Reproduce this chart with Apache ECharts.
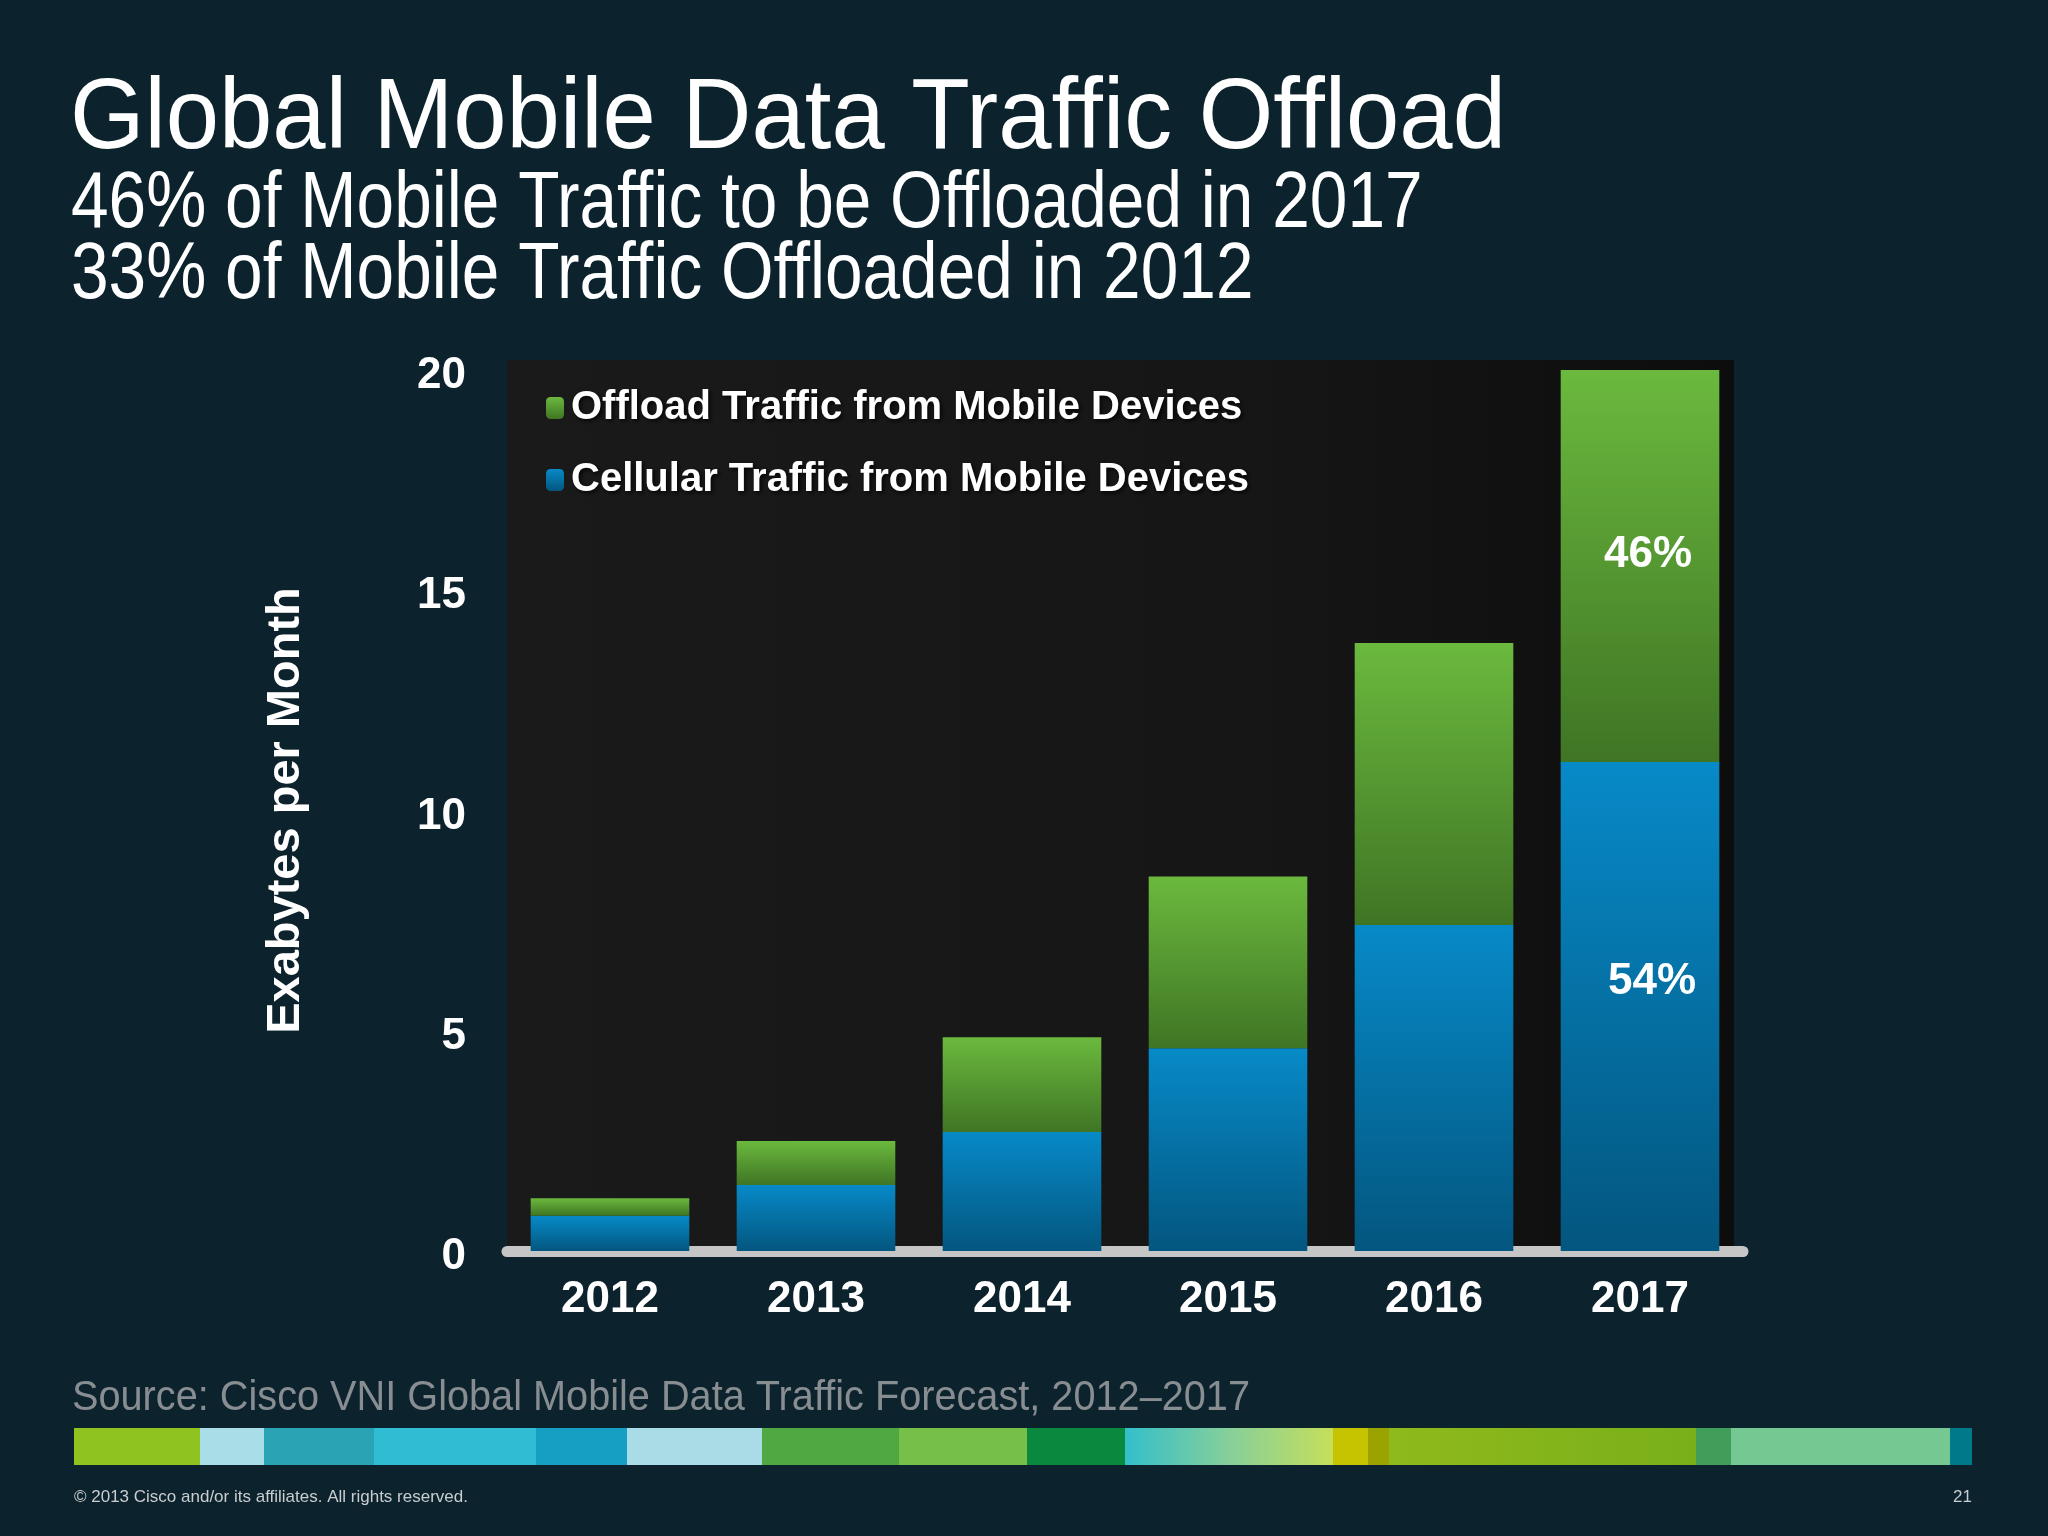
<!DOCTYPE html>
<html>
<head>
<meta charset="utf-8">
<script src="https://cdn.jsdelivr.net/npm/echarts@6/dist/echarts.min.js"></script>
<style>
html,body{margin:0;padding:0;background:#0c222c;}
#chart{width:2048px;height:1536px;}
</style>
</head>
<body>
<div id="chart"></div>
<script>
// ---- data ----
var years = ['2012', '2013', '2014', '2015', '2016', '2017'];
var cellular = [0.8, 1.5, 2.7, 4.6, 7.4, 11.1];
var offload = [0.4, 1.0, 2.15, 3.9, 6.4, 8.9];
var cellularPct = [null, null, null, null, null, '54%'];
var offloadPct = [null, null, null, null, null, '46%'];
var yTicks = [0, 5, 10, 15, 20];
var seriesNames = ['Offload Traffic from Mobile Devices', 'Cellular Traffic from Mobile Devices'];
var titleText = 'Global Mobile Data Traffic Offload';
var subLines = ['46% of Mobile Traffic to be Offloaded in 2017', '33% of Mobile Traffic Offloaded in 2012'];
var sourceText = 'Source: Cisco VNI Global Mobile Data Traffic Forecast, 2012\u20132017';
var copyText = '\u00a9 2013 Cisco and/or its affiliates. All rights reserved.';
var pageNo = '21';

// decorative colour strip (x start, x end, colour)
var stripe = [
  [74, 200, '#8fc31f'], [200, 264, '#a9dde8'], [264, 374, '#2aa4b4'], [374, 536, '#30bcd3'],
  [536, 627, '#169fc3'], [627, 762, '#a9dce6'], [762, 899, '#50a843'], [899, 1027, '#76c04a'],
  [1027, 1125, '#0a893e'], [1125, 1333, 'grad'], [1333, 1368, '#c6c300'], [1368, 1389, '#9ba300'],
  [1389, 1696, 'grad2'], [1696, 1731, '#409e5a'], [1731, 1950, '#76c892'], [1950, 1972, '#007a8a']
];

var LG = echarts.graphic.LinearGradient;
var greenGrad = new LG(0, 0, 0, 1, [{offset: 0, color: '#6bb93e'}, {offset: 1, color: '#3f7524'}]);
var blueGrad = new LG(0, 0, 0, 1, [{offset: 0, color: '#078ac8'}, {offset: 1, color: '#03567f'}]);

var sans = "'Liberation Sans', Arial, sans-serif";

var graphics = [];
// plot background
graphics.push({type: 'rect', z: -10, shape: {x: 507, y: 360, width: 1227, height: 891},
  style: {fill: new LG(0, 0, 1, 0, [{offset: 0, color: '#1a1a1a'}, {offset: 0.6, color: '#161616'}, {offset: 1, color: '#0d0d0d'}])}, silent: true});
stripe.forEach(function (s) {
  var fill = s[2];
  if (fill === 'grad') fill = new LG(0, 0, 1, 0, [{offset: 0, color: '#33bfca'}, {offset: 0.5, color: '#86cf9a'}, {offset: 1, color: '#c6df5a'}]);
  if (fill === 'grad2') fill = new LG(0, 0, 1, 0, [{offset: 0, color: '#8fb91c'}, {offset: 1, color: '#79b01a'}]);
  graphics.push({type: 'rect', shape: {x: s[0], y: 1428, width: s[1] - s[0], height: 37}, style: {fill: fill}, silent: true});
});
function txt(str, x, y, size, sx, color, align) {
  graphics.push({type: 'text', x: x, y: y, scaleX: sx, silent: true,
    style: {text: str, fill: color, font: 'normal ' + size + 'px ' + sans, align: align || 'left', verticalAlign: 'middle'}});
}
txt(titleText, 70, 120, 100, 0.958, '#ffffff');
txt(subLines[0], 71, 205, 80, 0.845, '#ffffff');
txt(subLines[1], 71, 276, 80, 0.845, '#ffffff');
txt(sourceText, 72, 1398, 43, 0.923, '#878d91');
txt(copyText, 74, 1497, 17, 1.0, '#c8cdd0');
txt(pageNo, 1972, 1497, 17, 1.0, '#c8cdd0', 'right');

var chart = echarts.init(document.getElementById('chart'));
var option = {
  backgroundColor: '#0c222c',
  animation: false,
  legend: {
    orient: 'vertical', left: 541, top: 379, itemGap: 24, itemWidth: 18, itemHeight: 22,
    data: [seriesNames[0], seriesNames[1]],
    textStyle: {color: '#ffffff', fontFamily: sans, fontWeight: 'bold', fontSize: 40, lineHeight: 48,
      textShadowColor: 'rgba(0,0,0,0.8)', textShadowBlur: 4, textShadowOffsetX: 2, textShadowOffsetY: 2, padding: [0, 0, 0, 2]}
  },
  grid: {left: 507, right: 305, top: 370, bottom: 285},
  xAxis: {
    type: 'category', data: years, offset: 5.5,
    axisLine: {lineStyle: {color: '#c6c6c6', width: 11}},
    axisTick: {show: false},
    axisLabel: {color: '#ffffff', fontFamily: sans, fontWeight: 'bold', fontSize: 44, margin: 21}
  },
  yAxis: {
    type: 'value', min: yTicks[0], max: yTicks[yTicks.length - 1], interval: yTicks[1] - yTicks[0],
    name: 'Exabytes per Month', nameLocation: 'middle', nameGap: 197,
    nameTextStyle: {color: '#ffffff', fontFamily: sans, fontWeight: 'bold', fontSize: 47},
    axisLine: {show: false}, axisTick: {show: false}, splitLine: {show: false},
    axisLabel: {color: '#ffffff', fontFamily: sans, fontWeight: 'bold', fontSize: 44, margin: 41,
      verticalAlign: 'top', lineHeight: 12}
  },
  series: [
    {
      name: seriesNames[1], type: 'bar', stack: 'total', barWidth: '77%',
      itemStyle: {color: blueGrad},
      data: cellular.map(function (v, i) {
        return cellularPct[i] ? {value: v, label: {show: true, formatter: cellularPct[i], position: 'inside', offset: [12, -25],
          color: '#ffffff', fontFamily: sans, fontWeight: 'bold', fontSize: 44}} : v;
      })
    },
    {
      name: seriesNames[0], type: 'bar', stack: 'total', barWidth: '77%',
      itemStyle: {color: greenGrad},
      data: offload.map(function (v, i) {
        return offloadPct[i] ? {value: v, label: {show: true, formatter: offloadPct[i], position: 'inside', offset: [8, -11],
          color: '#ffffff', fontFamily: sans, fontWeight: 'bold', fontSize: 44}} : v;
      })
    }
  ],
  graphic: graphics
};
chart.setOption(option);
</script>
</body>
</html>
